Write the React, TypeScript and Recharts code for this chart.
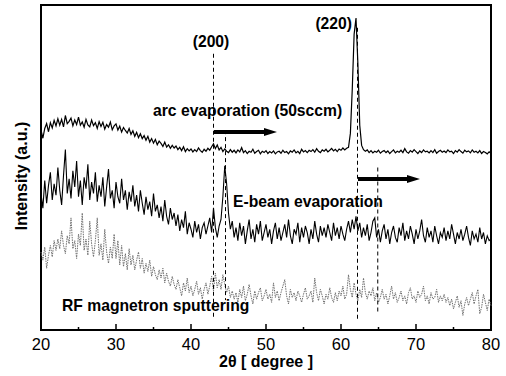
import React from 'react';
import { LineChart, Line, XAxis, YAxis, ReferenceLine, ReferenceArea } from 'recharts';

// XRD scans, sampled every 0.25 degree from 20 to 80 (2-theta)
const angleStart = 20;
const angleStep = 0.25;
const angleTicks = [20, 25, 30, 35, 40, 45, 50, 55, 60, 65, 70, 75, 80];

const arcValues = [
  61.5, 59.0, 62.0, 63.5, 61.0, 63.8, 62.2, 64.5,
  62.8, 65.0, 63.0, 64.8, 62.5, 66.0, 63.5, 64.2,
  65.2, 62.8, 64.6, 63.2, 65.5, 63.0, 64.0, 62.4,
  64.8, 63.1, 62.5, 64.6, 62.9, 63.8, 62.0, 64.1,
  62.6, 63.9, 61.8, 63.2, 62.4, 64.0, 61.6, 62.8,
  63.4, 61.5, 62.7, 60.9, 62.3, 61.4, 60.6, 62.0,
  60.2, 61.3, 59.6, 60.8, 59.2, 60.4, 58.9, 59.8,
  58.4, 59.6, 57.8, 58.9, 57.5, 58.6, 57.0, 58.1,
  57.4, 56.5, 57.8, 56.3, 57.0, 55.9, 56.8, 56.0,
  56.6, 55.5, 56.2, 55.2, 56.4, 54.9, 55.8, 55.1,
  55.7, 54.8, 55.5, 54.9, 56.0, 55.2, 54.7, 55.6,
  55.0, 55.9, 55.3, 56.4, 57.3, 55.8, 56.9, 55.4,
  56.2, 54.9, 55.7, 55.0, 54.6, 55.5, 54.7, 55.3,
  54.5, 55.4, 54.8, 56.1, 54.6, 55.2, 54.3, 55.0,
  54.7, 55.6, 54.4, 54.9, 55.3, 54.2, 55.0, 54.6,
  55.2, 54.3, 54.9, 54.5, 55.1, 54.2, 54.8, 55.0,
  54.4, 55.3, 54.6, 54.9, 54.2, 55.1, 54.7, 55.4,
  54.5, 55.0, 54.3, 55.6, 54.8, 55.2, 54.6, 55.3,
  54.9, 55.5, 54.7, 55.8, 55.0, 54.6, 55.4, 55.0,
  55.6, 54.8, 55.3, 55.9, 55.1, 55.6, 54.9, 55.7,
  55.3, 56.0, 55.4, 55.9, 56.2, 60.5, 74.0, 91.0,
  96.0, 82.0, 63.0, 56.8, 55.5, 55.0, 55.4, 54.6,
  55.2, 54.5, 55.0, 54.7, 55.3, 54.4, 54.9, 55.2,
  54.6, 55.1, 54.3, 54.9, 55.4, 54.5, 55.0, 54.7,
  55.3, 54.6, 55.8, 54.8, 54.4, 55.2, 54.7, 55.5,
  54.9, 54.3, 55.1, 54.6, 55.4, 54.8, 55.0, 54.5,
  55.2, 54.6, 55.5, 54.4, 54.9, 55.3, 54.7, 55.1,
  54.6, 55.4, 54.8, 55.0, 54.3, 55.2, 54.7, 55.5,
  54.9, 54.4, 55.3, 54.8, 55.1, 54.5, 55.4, 54.7,
  55.0, 54.5, 55.2, 54.3, 54.9, 54.6, 54.2, 54.8,
  54.4,
];

const ebeamValues = [
  42.0, 37.5, 46.0, 39.0, 44.5, 48.5, 40.0, 45.0,
  41.5, 50.0, 43.0, 38.5, 47.5, 55.5, 42.0, 46.5,
  40.5, 49.0, 44.0, 52.0, 41.0, 46.0, 38.5, 47.0,
  43.5, 51.0, 40.0, 45.5, 42.0, 48.5, 39.5, 44.5,
  41.0, 47.0, 38.0, 44.0, 49.5, 40.5, 43.0, 37.5,
  45.5, 41.0, 39.0, 46.5, 40.0, 43.0, 37.0, 42.5,
  39.5, 44.5, 38.0, 41.5, 36.5, 43.0, 39.0, 35.5,
  41.0, 37.0, 39.5, 35.0, 42.0, 36.5, 38.5, 34.5,
  38.0, 33.5, 40.0, 35.0, 32.5, 37.5, 34.0, 36.0,
  32.0, 35.5, 30.5, 34.0, 31.5, 36.5, 29.5, 33.0,
  31.0, 28.5, 33.5, 30.0, 32.5, 28.0, 31.5, 33.0,
  29.5, 32.0, 34.5, 30.0, 37.5, 31.5, 28.5, 32.0,
  34.0, 41.0, 50.5, 45.0, 36.0, 31.0, 33.5, 28.5,
  31.5, 27.5, 33.0, 29.0, 32.0, 26.5, 30.5, 34.0,
  28.0, 31.0, 27.0, 32.5, 29.5, 33.5, 27.5, 30.0,
  32.5, 28.5, 31.0, 26.5, 30.5, 33.0, 28.0, 31.5,
  27.5, 30.0, 32.5, 28.5, 34.0, 29.0, 26.5, 31.0,
  29.5, 33.0, 27.0, 31.5, 28.5, 32.0, 30.0, 26.5,
  31.0, 28.0, 33.5, 29.5, 27.0, 32.0, 29.0, 31.5,
  28.5, 32.5, 30.0, 27.5, 33.0, 29.0, 31.5, 28.0,
  32.0, 29.5, 27.5, 31.0, 33.5, 30.0, 34.0, 31.0,
  35.0, 30.5, 33.0, 28.5, 31.5, 29.0, 32.5, 27.5,
  30.0, 33.5, 34.5, 28.5, 31.0, 27.0, 30.5, 32.5,
  28.0, 31.0, 26.5, 30.0, 32.0, 28.5, 27.0, 31.5,
  29.0, 33.0, 27.5, 30.5, 28.0, 32.0, 29.5, 26.5,
  31.0, 28.0, 30.5, 34.0, 29.0, 27.0, 31.5, 28.5,
  30.5, 27.0, 32.0, 29.0, 26.5, 30.0, 28.5, 31.5,
  27.5, 30.5, 28.0, 32.5, 29.5, 26.5, 30.0, 28.0,
  31.0, 27.5, 29.5, 32.0, 28.5, 26.0, 30.5, 28.0,
  29.5, 27.0, 31.5, 28.0, 30.0, 26.5, 29.0, 27.5,
  28.0,
];

const rfValues = [
  24.0, 21.5, 25.5, 19.0, 23.0, 26.0, 22.5, 27.5,
  24.5, 28.0, 25.0, 30.5, 26.0, 23.5, 29.0, 26.5,
  34.5, 25.0, 27.5, 22.0, 29.5, 26.0, 36.0, 24.5,
  28.0, 23.0, 33.5, 26.5, 22.5, 27.5, 34.5, 23.0,
  26.5, 21.5, 31.0, 24.0, 20.5, 25.5, 22.0, 29.5,
  22.0, 27.5, 20.0, 26.0, 19.5, 23.5, 18.5, 25.0,
  20.0, 23.0, 18.5, 21.5, 24.0, 19.0, 22.0, 17.5,
  20.5, 18.0, 21.5, 16.5, 19.5, 17.0, 15.5, 18.5,
  16.0, 19.0, 14.5, 17.5, 15.0, 13.5, 16.5, 14.0,
  12.5, 15.5, 13.0, 10.5, 14.5, 12.0, 16.0, 11.5,
  13.5, 10.5, 12.5, 15.0, 11.0, 13.0, 9.5, 12.5,
  14.5, 11.0, 13.5, 16.5, 12.0, 17.5, 13.0, 15.5,
  12.5, 17.0, 14.0, 11.5, 13.5, 10.0, 12.0, 9.5,
  11.5, 8.5, 12.5, 10.0, 13.5, 9.0, 11.0, 14.0,
  10.5, 8.0, 12.0, 9.5, 11.5, 13.0, 9.0, 10.5,
  12.5, 9.5, 11.0, 8.5, 14.5, 10.0, 12.0, 9.0,
  11.5, 13.5, 15.5, 10.5, 8.0, 12.5, 10.0, 11.5,
  9.0, 12.0, 10.5, 8.5, 11.0, 13.0, 9.5, 10.5,
  12.0, 8.5, 16.0, 11.5, 9.0, 12.5, 10.5, 8.0,
  11.0, 9.5, 13.0, 10.0, 8.5, 11.5, 9.0, 12.0,
  10.5, 13.5, 9.5, 11.0, 17.0, 12.5, 10.0, 14.5,
  11.0, 9.0, 12.5, 10.0, 16.0, 11.5, 9.5, 12.0,
  10.5, 13.0, 9.0, 11.5, 8.5, 10.0, 12.5, 9.5,
  11.0, 8.0, 10.5, 13.5, 9.5, 11.5, 8.5, 10.0,
  12.0, 9.0, 10.5, 8.0, 11.5, 13.0, 9.5, 10.5,
  8.5, 12.0, 10.0, 11.0, 13.5, 9.0, 10.5, 8.0,
  11.5, 9.5, 10.0, 12.5, 8.5, 10.5, 9.0, 11.0,
  8.5, 10.0, 7.5, 9.5, 6.5, 8.5, 10.5, 7.0,
  9.0, 4.5, 8.0, 10.0, 7.5, 9.5, 11.5, 8.0,
  10.5, 12.5, 5.0, 7.0, 11.0, 8.5, 6.0, 9.5,
  7.5,
];

const rows = arcValues.map((v, i) => ({
  angle: angleStart + i * angleStep,
  arc: v,
  ebeam: ebeamValues[i],
  rf: rfValues[i],
}));

const FONT = '"Liberation Sans", Arial, sans-serif';

// ticks point inward, labels only on the tens
const AngleTick = ({ x, y, payload }: any) => {
  const major = payload.value % 10 === 0;
  return (
    <g>
      <line x1={x} x2={x} y1={y} y2={y - (major ? 6 : 3)} stroke="#000" strokeWidth={1.5} />
      {major && (
        <text x={x} y={y + 20} textAnchor="middle" fontSize={16.5} fontFamily={FONT} fill="#000">
          {payload.value}
        </text>
      )}
    </g>
  );
};

export default function App() {
  const bold = { fontFamily: FONT, fontWeight: 700, fontSize: 15.7, fill: '#000' } as const;
  return (
    <div style={{ position: 'absolute', left: 0, top: 0, width: 506, height: 376, background: '#fff' }}>
      <LineChart width={506} height={376} data={rows} margin={{ top: 5, right: 15, bottom: 0, left: 41 }}>
        <XAxis
          dataKey="angle"
          type="number"
          domain={[20, 80]}
          ticks={angleTicks}
          axisLine={false}
          tickLine={false}
          tickSize={0}
          tickMargin={0}
          height={46}
          tick={<AngleTick />}
        />
        <YAxis type="number" domain={[0, 100]} hide />
        <ReferenceArea x1={20} x2={80} y1={0} y2={100} fill="none" stroke="#000" strokeWidth={2} />

        <Line type="linear" dataKey="rf" stroke="#6e6e6e" strokeWidth={1} strokeDasharray="1.5 1" dot={false} isAnimationActive={false} />
        <Line type="linear" dataKey="ebeam" stroke="#000" strokeWidth={1.1} dot={false} isAnimationActive={false} />
        <Line type="linear" dataKey="arc" stroke="#000" strokeWidth={1.2} dot={false} isAnimationActive={false} />

        {/* peak markers */}
        <ReferenceLine segment={[{ x: 43.0, y: 85 }, { x: 43.0, y: 3.7 }]} stroke="#000" strokeDasharray="4 3" />
        <ReferenceLine segment={[{ x: 44.6, y: 61.5 }, { x: 44.6, y: 9.2 }]} stroke="#000" strokeDasharray="4 3" />
        <ReferenceLine segment={[{ x: 62.2, y: 93 }, { x: 62.2, y: 3.1 }]} stroke="#000" strokeDasharray="4 3" />
        <ReferenceLine segment={[{ x: 64.9, y: 50 }, { x: 64.9, y: 5.2 }]} stroke="#000" strokeDasharray="4 3" />
      </LineChart>

      <svg width={506} height={376} style={{ position: 'absolute', left: 0, top: 0, pointerEvents: 'none' }}>
        <text x={211} y={47} textAnchor="middle" {...bold}>(200)</text>
        <text x={352} y={29} textAnchor="end" {...bold}>(220)</text>
        <text x={153} y={116} {...bold}>arc evaporation (50sccm)</text>
        <text x={233} y={207} {...bold}>E-beam evaporation</text>
        <text x={62} y={311} {...bold}>RF magnetron sputtering</text>

        {/* shift arrows */}
        <line x1={214} y1={132} x2={266} y2={132} stroke="#000" strokeWidth={4} />
        <polygon points="264,128 277,132 264,136" fill="#000" />
        <line x1={358} y1={179} x2={409} y2={179} stroke="#000" strokeWidth={4} />
        <polygon points="407,175 420,179 407,183" fill="#000" />

        <text x={266} y={367} textAnchor="middle" fontFamily={FONT} fontWeight={700} fontSize={16}>2θ [ degree ]</text>
        <text x={27} y={176} textAnchor="middle" transform="rotate(-90 27 176)" fontFamily={FONT} fontWeight={700} fontSize={16}>
          Intensity (a.u.)
        </text>
      </svg>
    </div>
  );
}
